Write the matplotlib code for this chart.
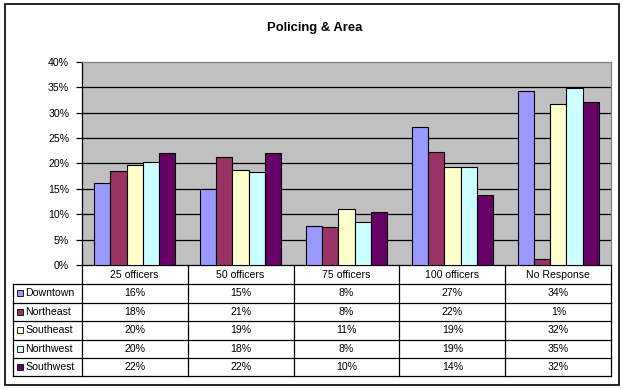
import matplotlib
matplotlib.use("Agg")
import matplotlib.pyplot as plt
from matplotlib.patches import Rectangle
from matplotlib.lines import Line2D
import numpy as np

plt.rcParams['font.family'] = ['Liberation Sans', 'DejaVu Sans']

title = "Policing & Area"
categories = ["25 officers", "50 officers", "75 officers", "100 officers", "No Response"]
series_names = ["Downtown", "Northeast", "Southeast", "Northwest", "Southwest"]
downtown = [16.1, 14.9, 7.6, 27.2, 34.3]
northeast = [18.4, 21.2, 7.5, 22.2, 1.1]
southeast = [19.6, 18.6, 11.0, 19.2, 31.6]
northwest = [20.2, 18.2, 8.4, 19.2, 34.8]
southwest = [22.0, 22.0, 10.4, 13.8, 32.0]
series = [downtown, northeast, southeast, northwest, southwest]
colors = ["#9999FF", "#993366", "#FFFFCC", "#CCFFFF", "#660066"]
yticks = [0, 5, 10, 15, 20, 25, 30, 35, 40]

W, H = 623, 389
fig = plt.figure(figsize=(W / 100, H / 100), dpi=100)
fig.patch.set_facecolor("white")

def fx(x):
    return x / W

def fy(y):
    return 1 - y / H

# outer border
fig.add_artist(Rectangle((fx(4.5), fy(384.5)), fx(618.5) - fx(4.5), fy(4.5) - fy(384.5),
                         transform=fig.transFigure, fill=False, edgecolor="black", lw=1.2))

L, R, T, B = 81.7, 611.3, 61.7, 265.0
ax = fig.add_axes([fx(L), fy(B), fx(R) - fx(L), fy(T) - fy(B)])
ax.set_facecolor("#C0C0C0")
n = len(series)
bw = 1 / (n + 1.5)
x = np.arange(len(categories))
for i, (vals, c) in enumerate(zip(series, colors)):
    ax.bar(x + (i - (n - 1) / 2) * bw, vals, width=bw, color=c, edgecolor="black", lw=0.8, zorder=3)
ax.set_xlim(-0.5, len(categories) - 0.5)
ax.set_ylim(0, 40)
ax.set_yticks(yticks)
ax.set_yticklabels([f"{t}%" for t in yticks], fontsize=7.6)
for t in yticks[1:-1]:
    ax.axhline(t, color="black", lw=0.9, zorder=1)
ax.set_xticks([])
ax.tick_params(axis="y", length=4.5, width=0.9, pad=4.5, colors="black")
for s in ["top", "right"]:
    ax.spines[s].set_color("#808080")
    ax.spines[s].set_linewidth(0.9)
ax.spines["left"].set_linewidth(0.9)
ax.spines["bottom"].set_linewidth(0.9)

fig.text(fx(315), fy(27.5), title, ha="center", va="center", fontsize=9.4, fontweight="bold")

# data table
rows_y = [284.0, 302.5, 321.0, 339.5, 358.0, 376.0]
tl = 13.3
col_edges = [L + (R - L) * k / len(categories) for k in range(len(categories) + 1)]
lw = 0.9
def hline(y, x0, x1):
    fig.add_artist(Line2D([fx(x0), fx(x1)], [fy(y), fy(y)], transform=fig.transFigure, color="black", lw=lw))
def vline(x0, y0, y1):
    fig.add_artist(Line2D([fx(x0), fx(x0)], [fy(y0), fy(y1)], transform=fig.transFigure, color="black", lw=lw))

for y in rows_y:
    hline(y, tl, R)
for xe in col_edges:
    vline(xe, B, rows_y[-1])
vline(tl, rows_y[0], rows_y[-1])

for k, cat in enumerate(categories):
    cx = (col_edges[k] + col_edges[k + 1]) / 2
    fig.text(fx(cx), fy((B + rows_y[0]) / 2), cat, ha="center", va="center", fontsize=7.6)
    for i, vals in enumerate(series):
        cy = (rows_y[i] + rows_y[i + 1]) / 2
        fig.text(fx(cx), fy(cy), f"{int(vals[k] + 0.5)}%", ha="center", va="center", fontsize=7.6)

for i, (name, c) in enumerate(zip(series_names, colors)):
    cy = (rows_y[i] + rows_y[i + 1]) / 2
    fig.add_artist(Rectangle((fx(17), fy(cy + 3)), fx(6), fy(0) - fy(6),
                             transform=fig.transFigure, facecolor=c, edgecolor="black", lw=0.6))
    fig.text(fx(25), fy(cy), name, ha="left", va="center", fontsize=7.6)

fig.savefig("out.png", dpi=100)
